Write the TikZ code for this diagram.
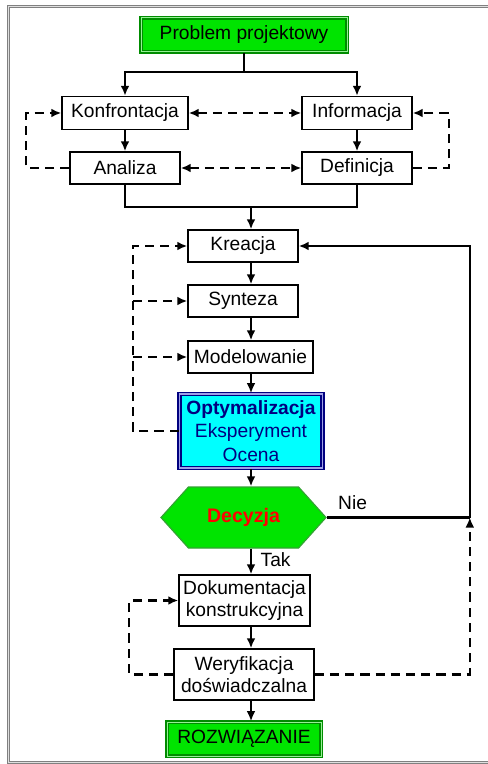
\documentclass[tikz,border=0pt]{standalone}
\usepackage{fontspec}
\setmainfont{Liberation Sans}
\usetikzlibrary{shapes.symbols,arrows.meta}

\definecolor{darkgreen}{RGB}{0,140,0}
\definecolor{brightgreen}{RGB}{0,228,0}
\definecolor{paleline}{RGB}{150,240,150}
\definecolor{navyblue}{RGB}{0,0,128}
\definecolor{lightnavy}{RGB}{160,160,230}
\definecolor{boxcyan}{RGB}{0,255,255}

\begin{document}
\begin{tikzpicture}[
		x=0.5pt,y=-0.5pt,
		>={Latex[length=5pt,width=4.4pt]},
		every node/.style={font=\fontsize{9.6}{10.8}\selectfont},
		block/.style={draw,fill=white,line width=0.7pt,minimum height=16pt,inner sep=2pt,align=center},
		termbox/.style={draw=darkgreen,double=paleline,double distance=0.5pt,line width=0.8pt,fill=brightgreen,minimum height=16.5pt},
		keybox/.style={draw=navyblue,double=lightnavy,double distance=0.6pt,line width=0.9pt,fill=boxcyan,text=navyblue,align=center,font=\fontsize{9.6}{11.6}\selectfont},
		decision/.style={shape=signal,signal to=east and west,signal pointer angle=96,draw=darkgreen!80,line width=0.6pt,fill=brightgreen,text=red,font=\fontsize{9.8}{11}\selectfont\bfseries},
		flow/.style={line width=1pt},
		dashline/.style={line width=1.1pt,dash pattern=on 4.6pt off 3pt}
		]
		\useasboundingbox (0,0) rectangle (487,764);
		% frame
		\draw[gray,double=gray!25,double distance=0.5pt,line width=0.6pt] (8.5,6.5) rectangle (520,762.5);

		\path (244,35) node[termbox,minimum width=103pt,minimum height=17pt] (problem) {Problem projektowy};
		\path (125,113) node[block,minimum width=63pt,minimum height=16.5pt] (konfrontacja) {Konfrontacja}
		 ++(0,55) node[block,minimum width=55pt] (analiza) {Analiza};
		\path (357,113) node[block,minimum width=55pt,minimum height=16.5pt] (informacja) {Informacja}
		 ++(0,55) node[block,minimum width=55pt] (definicja) {Definicja};

		\path (243,246) node[block,minimum width=55pt] (kreacja) {Kreacja}
		 ++(0,55) node[block,minimum width=55pt] (synteza) {Synteza}
		 ++(7.5,56) node[block,minimum width=62.5pt] (modelowanie) {Modelowanie}
		 ++(0.5,74) node[keybox,minimum width=71pt,minimum height=36.5pt] (ocena) {\textbf{Optymalizacja}\\Eksperyment\\Ocena}
		 ++(-7.5,86.5) node[decision,minimum width=82.5pt,minimum height=30.5pt] (decyzja) {Decyzja}
		 ++(1,83) node[block,minimum width=65.5pt,minimum height=25.5pt] (dokumentacja) {Dokumentacja\\konstrukcyjna}
		 ++(-0.5,74) node[block,minimum width=70pt,minimum height=25.5pt] (weryfikacja) {Weryfikacja\\doświadczalna}
		 ++(0,64.5) node[termbox,minimum width=77pt,minimum height=17pt] (rozwiazanie) {ROZWIĄZANIE};

		\coordinate (split) at (244,72);
		\coordinate (merge) at (251,207);
		\path (decyzja.east) -- ++(143,0) coordinate (back);

		% upper part
		\draw[flow] (problem) -- (split);
		\draw[flow,->] (split) -| (konfrontacja);
		\draw[flow,->] (split) -| (informacja);
		\draw[flow,->] (konfrontacja) -- (analiza);
		\draw[flow,->] (informacja) -- (definicja);
		\draw[dashline,<->] (konfrontacja) -- (informacja);
		\draw[dashline,<->] (analiza) -- (definicja);
		\draw[dashline,->] (analiza.west) -- ++(-43,0) |- (konfrontacja.west);
		\draw[dashline,->] (definicja.east) -- ++(36,0) |- (informacja.east);
		\draw[flow] (analiza.south) |- (merge) -| (definicja.south);

		% main chain
		\draw[flow,->] (merge) -- (merge |- kreacja.north);
		\draw[flow,->] (kreacja.south -| merge) -- (synteza.north -| merge);
		\draw[flow,->] (synteza.south -| merge) -- (modelowanie.north -| merge);
		\draw[flow,->] (modelowanie.south -| merge) -- (ocena.north -| merge);
		\draw[flow,->] (ocena.south -| merge) -- (decyzja.north -| merge);
		\draw[flow,->] (decyzja.south -| merge) -- node[right,xshift=1pt,yshift=1pt] {Tak} (dokumentacja.north -| merge);
		\draw[flow,->] (dokumentacja.south -| merge) -- (weryfikacja.north -| merge);
		\draw[flow,->] (weryfikacja.south -| merge) -- (rozwiazanie.north -| merge);

		\draw[dashline,->] (ocena.west) -- ++(-46,0) coordinate (loop) |- (kreacja.west);
		\draw[dashline,->] (loop |- synteza) -- (synteza.west);
		\draw[dashline,->] (loop |- modelowanie) -- (modelowanie.west);

		% decision
		\draw[line width=1.1pt] (decyzja.east) -- node[above,pos=0.18] {Nie} (back);
		\draw[line width=1.1pt,->] (back) |- (kreacja.east);
		\draw[dashline,->] (weryfikacja.east) -- (weryfikacja.east -| back) -- (back);
		\draw[dashline,->] (weryfikacja.west) -- ++(-44,0) |- (dokumentacja.west);

	\end{tikzpicture}
\end{document}
